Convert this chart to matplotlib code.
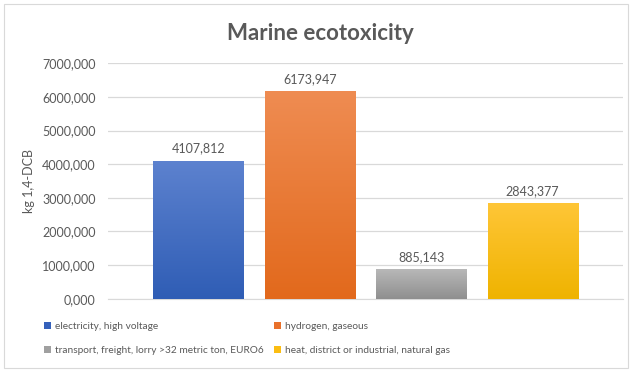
import numpy as np
import matplotlib
matplotlib.use("Agg")
import matplotlib.pyplot as plt
from matplotlib.patches import Patch, Rectangle
from matplotlib.colors import LinearSegmentedColormap

plt.rcParams['font.family'] = ['Lato', 'DejaVu Sans']

# data
labels = ["electricity, high voltage", "hydrogen, gaseous",
          "transport, freight, lorry >32 metric ton, EURO6",
          "heat, district or industrial, natural gas"]
values = [4107.812, 6173.947, 885.143, 2843.377]
yticks = [0, 1000, 2000, 3000, 4000, 5000, 6000, 7000]

# gradient colours (top, bottom)
grads = [("#5d82cf", "#2f5db5"), ("#ef8c52", "#e2691c"),
         ("#b8b8b8", "#8f8f8f"), ("#ffc637", "#efb300")]
legend_cols = ["#3561bb", "#e9712b", "#a0a0a0", "#fbbd12"]

txt = "#595959"

fig = plt.figure(figsize=(6.33, 3.74), dpi=100)
ax = fig.add_axes([108/633, 1 - 298.7/374, (623-108)/633, (298.7-63.3)/374])

x = np.arange(len(values))
bars = ax.bar(x, values, width=0.81, color="none", zorder=3)

grad = np.linspace(1, 0, 256).reshape(-1, 1)
for b, (top, bot) in zip(bars, grads):
    cmap = LinearSegmentedColormap.from_list("g", [bot, top])
    x0, y0 = b.get_x(), b.get_y()
    im = ax.imshow(grad, cmap=cmap, aspect="auto", zorder=3,
                   extent=[x0, x0 + b.get_width(), y0, y0 + b.get_height()])
    im.set_clip_path(b)

for xi, v in zip(x, values):
    ax.annotate(f"{v:.3f}".replace(".", ","), (xi, v), xytext=(0, 4.5),
                textcoords="offset points", ha="center", va="bottom",
                fontsize=9, color=txt)

ax.set_xlim(-0.81, 3.81)
ax.set_ylim(0, 7000)
ax.set_yticks(yticks)
ax.set_yticklabels([f"{t:.3f}".replace(".", ",") for t in yticks])
ax.set_xticks([])
ax.tick_params(axis="y", length=0, pad=9, labelsize=9, labelcolor=txt)
ax.grid(axis="y", color="#d9d9d9", linewidth=0.9, zorder=0)
ax.set_axisbelow(True)
for s in ["top", "right", "left"]:
    ax.spines[s].set_visible(False)
ax.spines["bottom"].set_color("#d9d9d9")
ax.set_ylabel("kg 1,4-DCB", fontsize=9, color=txt, labelpad=5)

fig.text(320/633, 1 - 33/374, "Marine ecotoxicity", ha="center", va="center",
         fontsize=16, fontweight="bold", color=txt)

# legend: two columns placed like the original
for idx, x_left in [([0, 2], 40), ([1, 3], 270)]:
    hs = [Patch(facecolor=legend_cols[i], edgecolor="none") for i in idx]
    fig.legend(hs, [labels[i] for i in idx], ncol=1, frameon=False,
               loc="upper left", bbox_to_anchor=(x_left/633, 1 - 318/374),
               borderaxespad=0, fontsize=7.3, labelcolor=txt,
               handlelength=0.7, handleheight=0.7, handletextpad=0.4,
               labelspacing=1.5)

fig.patches.append(Rectangle((4/633, 1 - 368/374), 624/633, 364/374,
                             transform=fig.transFigure, fill=False,
                             edgecolor="#d9d9d9", linewidth=0.8))

fig.savefig("out.png", dpi=100)
